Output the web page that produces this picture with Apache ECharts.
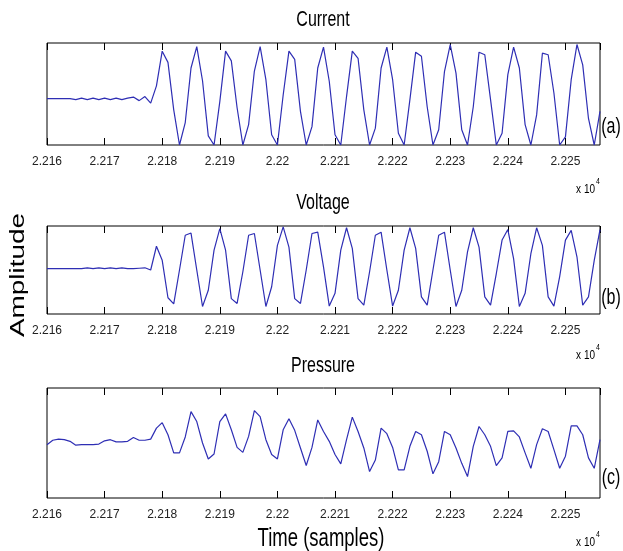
<!DOCTYPE html>
<html>
<head>
<meta charset="utf-8">
<title>Current / Voltage / Pressure</title>
<script src="https://cdn.jsdelivr.net/npm/echarts@6/dist/echarts.min.js"></script>
<style>
  html, body { margin: 0; padding: 0; background: #fff; }
  #chart { width: 623px; height: 551px; }
</style>
</head>
<body>
<div id="chart"></div>
<script>
// first sample shown on the x axis, one value per sample after it
const sampleStart = 22160
const sampleEnd = 22256

const current = [
  -0.09, -0.09, -0.09, -0.09, -0.09, -0.11, -0.08, -0.11, -0.08, -0.11,
  -0.08, -0.11, -0.08, -0.11, -0.08, -0.06, -0.13, -0.05, -0.18, 0.16,
  0.84, 0.62, -0.31, -1.0, -0.56, 0.51, 0.93, 0.26, -0.82, -1.0,
  -0.15, 0.84, 0.65, -0.27, -1.0, -0.60, 0.45, 0.93, 0.28, -0.80,
  -1.0, -0.02, 0.84, 0.68, -0.34, -1.0, -0.64, 0.51, 0.92, 0.25,
  -0.80, -1.0, -0.05, 0.84, 0.70, -0.31, -1.0, -0.67, 0.51, 0.92,
  0.28, -0.77, -1.0, -0.11, 0.82, 0.74, -0.25, -1.0, -0.70, 0.44,
  0.97, 0.41, -0.70, -1.0, -0.25, 0.82, 0.77, -0.11, -1.0, -0.77,
  0.38, 0.92, 0.51, -0.60, -1.0, -0.41, 0.80, 0.77, 0.02, -1.0,
  -0.84, 0.28, 0.97, 0.57, -0.48, -1.0, -0.34
]

const voltage = [
  0.03, 0.03, 0.03, 0.03, 0.03, 0.03, 0.03, 0.05, 0.03, 0.05,
  0.03, 0.05, 0.03, 0.05, 0.03, 0.03, 0.04, 0.05, 0.0, 0.54,
  0.22, -0.63, -0.77, 0.0, 0.79, 0.84, 0.0, -0.83, -0.46, 0.45,
  0.94, 0.45, -0.65, -0.76, -0.04, 0.79, 0.83, 0.0, -0.83, -0.38,
  0.56, 0.98, 0.52, -0.65, -0.76, 0.0, 0.83, 0.86, 0.07, -0.82,
  -0.53, 0.45, 0.96, 0.49, -0.65, -0.80, -0.04, 0.79, 0.86, 0.0,
  -0.82, -0.46, 0.45, 0.96, 0.49, -0.61, -0.80, 0.0, 0.79, 0.86,
  0.0, -0.83, -0.46, 0.41, 0.96, 0.52, -0.61, -0.80, -0.08, 0.68,
  0.92, 0.26, -0.83, -0.53, 0.37, 0.96, 0.56, -0.61, -0.82, -0.15,
  0.68, 0.90, 0.30, -0.80, -0.61, 0.22, 0.92
]

const pressure = [
  -0.03, 0.05, 0.07, 0.06, 0.03, -0.04, -0.03, -0.03, -0.03, -0.02,
  0.04, 0.06, 0.02, 0.02, 0.03, 0.10, 0.05, 0.05, 0.07, 0.27,
  0.37, 0.15, -0.18, -0.18, 0.11, 0.57, 0.39, 0.0, -0.29, -0.20,
  0.39, 0.53, 0.24, -0.08, -0.17, 0.12, 0.59, 0.48, 0.06, -0.21,
  -0.29, 0.24, 0.44, 0.23, -0.09, -0.41, -0.08, 0.42, 0.21, 0.03,
  -0.21, -0.38, 0.06, 0.47, 0.21, -0.09, -0.52, -0.31, 0.27, 0.17,
  -0.08, -0.49, -0.49, -0.06, 0.21, 0.15, -0.15, -0.56, -0.34, 0.21,
  0.15, -0.09, -0.37, -0.61, -0.06, 0.30, 0.15, -0.06, -0.41, -0.27,
  0.21, 0.22, 0.11, -0.18, -0.46, -0.03, 0.26, 0.21, -0.12, -0.46,
  -0.24, 0.31, 0.31, 0.15, -0.27, -0.46, 0.06
]

const panelTitles = ['Current', 'Voltage', 'Pressure']
const panelTags = ['(a)', '(b)', '(c)']
const panelSeries = [current, voltage, pressure]

// layout of the three boxes (px)
const boxTop = [43, 226, 388]
const boxHeight = [102, 88, 110]
const titleY = [20, 203, 366]
const tagY = [127, 298, 478]
const expY = [189, 355, 542]

const font = "'Liberation Sans', Arial, sans-serif"
const tall = 1.36   // the source picture is stretched vertically
const lineColor = '#2e2eb4'

const chart = echarts.init(document.getElementById('chart'))

const grids = []
const xAxes = []
const yAxes = []
const series = []
const graphics = []

function label(text, x, y, size, align) {
  return {
    type: 'text',
    x: x,
    y: y,
    scaleY: tall,
    style: { text: text, font: size + 'px ' + font, fill: '#000', align: align || 'center', verticalAlign: 'middle' }
  }
}

panelSeries.forEach((values, i) => {
  grids.push({
    left: 47,
    right: 23,
    top: boxTop[i],
    height: boxHeight[i],
    show: true,
    borderColor: '#000',
    borderWidth: 1,
    backgroundColor: '#fff'
  })
  // bottom axis with labels
  xAxes.push({
    gridIndex: i,
    type: 'value',
    position: 'bottom',
    min: sampleStart,
    max: sampleEnd,
    interval: 10,
    splitLine: { show: false },
    axisLine: { show: false, onZero: false },
    axisTick: { show: true, inside: true, length: 7, lineStyle: { color: '#000' } },
    axisLabel: {
      show: true,
      margin: 11,
      showMaxLabel: false,
      color: '#222',
      fontFamily: font,
      fontSize: 12,
      formatter: v => String(+(v / 10000).toFixed(4))
    }
  })
  // mirrored ticks on top
  xAxes.push({
    gridIndex: i,
    type: 'value',
    position: 'top',
    min: sampleStart,
    max: sampleEnd,
    interval: 10,
    splitLine: { show: false },
    axisLine: { show: false, onZero: false },
    axisTick: { show: true, inside: true, length: 7, lineStyle: { color: '#000' } },
    axisLabel: { show: false }
  })
  yAxes.push({
    gridIndex: i,
    type: 'value',
    min: -1,
    max: 1,
    axisLine: { show: false },
    axisTick: { show: false },
    axisLabel: { show: false },
    splitLine: { show: false }
  })
  series.push({
    type: 'line',
    xAxisIndex: i * 2,
    yAxisIndex: i,
    data: values.map((v, k) => [sampleStart + k, v]),
    showSymbol: false,
    lineStyle: { color: lineColor, width: 1.2 }
  })
  graphics.push(label(panelTitles[i], 323, titleY[i], 16))
  graphics.push(label(panelTags[i], 611, tagY[i], 16))
  graphics.push(label('x 10', 595, expY[i], 10, 'right'))
  graphics.push(label('4', 598, expY[i] - 8, 7))
})

// axis names
graphics.push({
  type: 'text',
  x: 18,
  y: 275,
  rotation: Math.PI / 2,
  scaleX: 1.33,
  style: { text: 'Amplitude', font: '21px ' + font, fill: '#000', align: 'center', verticalAlign: 'middle' }
})
graphics.push(label('Time (samples)', 321, 539, 18.5))

const option = {
  backgroundColor: '#fff',
  animation: false,
  grid: grids,
  xAxis: xAxes,
  yAxis: yAxes,
  series: series,
  graphic: graphics
}

option && chart.setOption(option)
</script>
</body>
</html>
